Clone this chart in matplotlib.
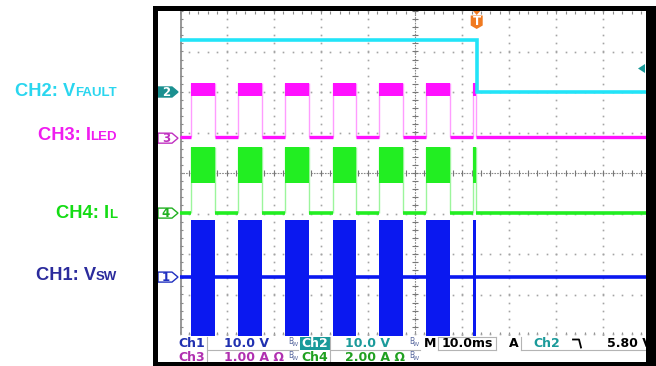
import numpy as np
import matplotlib.pyplot as plt
from matplotlib.patches import Rectangle, Polygon, FancyBboxPatch

# ---- data (time in ms, levels in divisions) ----
pwm_on = [2.4, 12.4, 22.4, 32.5, 42.4, 52.3, 62.3]
pwm_off = [7.5, 17.5, 27.5, 37.5, 47.5, 57.4, 63.0]
fault_t = 63.1

ch2_hi, ch2_lo = 3.28, 2.0            # V_FAULT
ch3_lo, ch3_band = 0.88, (1.90, 2.22)  # I_LED
ch4_lo, ch4_band = -0.99, (-0.25, 0.64)  # I_L
ch1_lo, ch1_band = -2.57, (-4.2, -1.16)  # V_SW

ch_offsets = {'2': 2.0, '3': 0.86, '4': -0.99, '1': -2.57}
trig_level_v = 5.80
ch2_scale = 10.0

row1 = [('Ch1', '10.0 V'), ('Ch2', '10.0 V')]
row2 = [('Ch3', '1.00 A Ω'), ('Ch4', '2.00 A Ω')]
timebase = '10.0ms'

labels = [('CH2: V', 'FAULT', '#2ad6ef', 96.5),
          ('CH3: I', 'LED', '#f01cf0', 140.5),
          ('CH4: I', 'L', '#14dc14', 218),
          ('CH1: V', 'SW', '#2b2b9c', 280.5)]

W, H = 656, 366
fig = plt.figure(figsize=(W / 100, H / 100), dpi=100)
fig.patch.set_facecolor('white')

# screen area in pixels
x0, x1 = 179.5, 650.5
y_top, y_bot = 11, 335
ax = fig.add_axes([x0 / W, 1 - y_bot / H, (x1 - x0) / W, (y_bot - y_top) / H])
ax.set_xlim(0, 100)
ax.set_ylim(-4, 4)
ax.axis('off')

ov = fig.add_axes([0, 0, 1, 1], zorder=5)
ov.set_xlim(0, W)
ov.set_ylim(H, 0)
ov.axis('off')


def div_px(d):
    return y_top + (4 - d) / 8 * (y_bot - y_top)


def t_px(t):
    return x0 + t / 100 * (x1 - x0)


# ---- graticule ----
gc = '#a4a4a4'
my = np.arange(-4, 4.001, 0.2)
mx = np.arange(0, 100.001, 2)
for xv in range(10, 100, 10):
    if xv != 50:
        ax.plot(np.full_like(my, xv), my, ls='none', marker='s', ms=1.2, mew=0, color=gc)
for yv in range(-3, 4):
    if yv != 0:
        ax.plot(mx, np.full_like(mx, yv), ls='none', marker='s', ms=1.2, mew=0, color=gc)
ax.axvline(50, color='#8a8a8a', lw=0.8, ls=(0, (1.5, 1)))
ax.axhline(0, color='#8a8a8a', lw=0.8, ls=(0, (1.5, 1)))
ax.hlines(my, 49.3, 50.7, color='#777777', lw=0.8)
ax.vlines(mx, -0.075, 0.075, color='#777777', lw=0.8)
ax.axvline(0, color='#999999', lw=2.2)
ax.hlines(my, 0, 0.8, color='#8a8a8a', lw=0.8)
ax.vlines(mx, 3.92, 4, color='#8a8a8a', lw=0.8)
ax.vlines(mx, -4, -3.92, color='#8a8a8a', lw=0.8)
ax.plot(mx, np.full_like(mx, -3.98), ls='none', marker='s', ms=1.2, mew=0, color=gc)

# ---- traces ----
off_starts = [0] + pwm_off
off_ends = pwm_on + [100]


def pwm_trace(lo, band, col, edge_col, lw):
    ax.hlines([lo] * len(off_starts), off_starts, off_ends, color=col, lw=lw, zorder=3)
    for a, b in zip(pwm_on, pwm_off):
        ax.fill_between([a, b], band[0], band[1], color=col, lw=0, zorder=3)
    ax.vlines(pwm_on + pwm_off, min(lo, band[0]), max(lo, band[1]),
              color=edge_col, lw=1.0, zorder=2)


pwm_trace(ch3_lo, ch3_band, '#ff10ff', '#ff9cff', 2.4)
pwm_trace(ch4_lo, ch4_band, '#22ee22', '#9cf59c', 2.6)
ax.hlines([ch1_lo] * len(off_starts), off_starts, off_ends, color='#0a18f0', lw=2.6, zorder=3)
for a, b in zip(pwm_on, pwm_off):
    ax.fill_between([a, b], ch1_band[0], ch1_band[1], color='#0a18f0', lw=0, zorder=3)

ax.plot([0, fault_t, fault_t, 100], [ch2_hi, ch2_hi, ch2_lo, ch2_lo],
        color='#22e4f8', lw=2.6, zorder=3, solid_joinstyle='miter')

# ---- channel ground markers ----
mk_style = {'2': ('#1a9090', '#1a9090', 'white'),
            '3': ('white', '#c030c0', '#c030c0'),
            '4': ('white', '#20b020', '#20b020'),
            '1': ('white', '#2030c0', '#2030c0')}
for ch, d in ch_offsets.items():
    yc = div_px(d)
    fc, ec, tc = mk_style[ch]
    ov.add_patch(Polygon([(158, yc - 5), (172, yc - 5), (178, yc), (172, yc + 5), (158, yc + 5)],
                         closed=True, fc=fc, ec=ec, lw=1.0))
    ov.text(166, yc + 0.5, ch, ha='center', va='center', fontsize=8.5, fontweight='bold',
            color=tc, family='DejaVu Sans')

# trigger level arrow on the right
yt = div_px(ch_offsets['2'] + trig_level_v / ch2_scale)
ov.add_patch(Polygon([(638, yt), (645, yt - 4.5), (645, yt + 4.5)], closed=True, fc='#1a9a9a', ec='none'))

# trigger position marker
xt = t_px(fault_t)
ov.add_patch(Polygon([(xt - 4.5, 10), (xt + 4.5, 10), (xt, 15)], closed=True, fc='#f07a20', ec='none'))
ov.add_patch(Polygon([(xt - 6, 15.5), (xt + 6, 15.5), (xt + 6, 25.5), (xt, 29), (xt - 6, 25.5)],
                     closed=True, fc='#f07a20', ec='none'))
ov.text(xt, 21.5, 'T', ha='center', va='center', fontsize=8.5, fontweight='bold', color='white')

# ---- black bezel ----
for r in [(153, 5.5, 503, 5.5), (153, 5.5, 5, 361), (646, 5.5, 10, 361), (153, 362, 503, 4)]:
    ov.add_patch(Rectangle((r[0], r[1]), r[2], r[3], fc='black', ec='none', zorder=10))

# ---- status bar ----
lc = '#b4b4b4'
for seg in [((207, 207), (337, 364)), ((330, 330), (337, 364)), ((207, 298), (350, 350)),
            ((330, 420), (350, 350)), ((438, 438), (337, 350)), ((496, 496), (337, 350)),
            ((438, 496), (337, 337)), ((438, 496), (350, 350)), ((521, 521), (337, 350)),
            ((521, 646), (350, 350))]:
    ov.plot(seg[0], seg[1], color=lc, lw=0.8)

ch_col = {'Ch1': '#2030b0', 'Ch2': '#1a9a9a', 'Ch3': '#b030b0', 'Ch4': '#20a020'}
sfont = dict(fontsize=9, fontweight='bold', family='DejaVu Sans', va='center')
ov.add_patch(Rectangle((300, 337), 30, 13, fc='#1a9a9a', ec='none'))
for row, yr in [(row1, 343.5), (row2, 357.5)]:
    for i, (name, val) in enumerate(row):
        xn = 178 if i == 0 else 301
        col = ch_col[name]
        ov.text(xn, yr, name, ha='left', color='white' if name == 'Ch2' else col, **sfont)
        ov.text(xn + 46 if i == 0 else 345, yr, val, ha='left', color=col, **sfont)
        ov.text(288 if i == 0 else 409, yr - 1.5, 'B', ha='left', fontsize=5.5,
                color='#5a6aa0', family='DejaVu Sans', va='center')
        ov.text(292 if i == 0 else 413, yr + 1.0, 'W', ha='left', fontsize=4.5,
                color='#5a6aa0', family='DejaVu Sans', va='center')

ov.text(424, 343.5, 'M', ha='left', color='black', **sfont)
ov.text(442, 343.5, timebase, ha='left', color='black', **sfont)
ov.text(509, 343.5, 'A', ha='left', color='black', **sfont)
ov.text(533, 343.5, 'Ch2', ha='left', color=ch_col['Ch2'], **sfont)
ov.plot([573, 579, 581], [339.5, 339.5, 347.5], color='black', lw=1.3)
ov.text(607, 343.5, '%.2f V' % trig_level_v, ha='left', color='black', **sfont)

# ---- left channel labels ----
renderer = fig.canvas.get_renderer()
for main, sub, col, yb in labels:
    ts = ov.text(117, yb, sub, ha='right', va='baseline', fontsize=9.5, fontweight='bold',
                 color=col, family='Liberation Sans')
    w = ts.get_window_extent(renderer).width
    ov.text(117 - w, yb, main, ha='right', va='baseline', fontsize=13.2, fontweight='bold',
            color=col, family='Liberation Sans')

fig.savefig('out.png', dpi=100, facecolor='white')
